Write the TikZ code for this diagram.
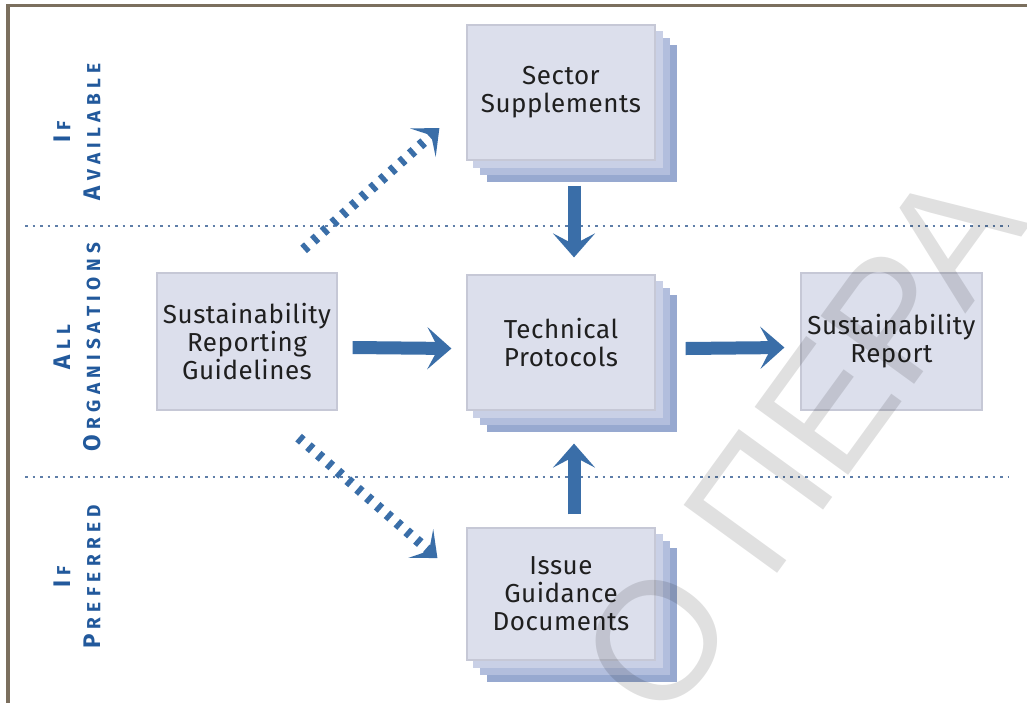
\documentclass[tikz,border=0pt]{standalone}
\usepackage{fontspec}
\setmainfont{Fira Sans}
\newfontfamily\boxfont[LetterSpace=2]{Fira Sans}
\newfontfamily\lblfont{Fira Sans}
\newfontfamily\wmfont{Liberation Sans}
\usetikzlibrary{arrows.meta,backgrounds}
\definecolor{arrowblue}{HTML}{3A6EA8}
\definecolor{lblblue}{HTML}{22599C}
\definecolor{boxfill}{HTML}{DCDFEC}
\definecolor{boxline}{HTML}{C6C8D6}
\definecolor{layerA}{HTML}{C9D0E6}
\definecolor{layerB}{HTML}{B2BEDD}
\definecolor{layerC}{HTML}{97A9D0}
\definecolor{framecol}{HTML}{7B6F5E}
\definecolor{dotcol}{HTML}{5E7EA8}
\def\spcloop#1{\ifx#1\relax\else\kern5.3pt#1\expandafter\spcloop\fi}
\newcommand\scw[2]{{\fontsize{24}{24}\selectfont #1}{\fontsize{19}{19}\selectfont\spcloop#2\relax}}
\begin{document}
\begin{tikzpicture}[x=1pt,y=-1pt,
  box/.style={draw=boxline, line width=1.2pt, fill=boxfill, text=black!88,
    font=\boxfont\fontsize{26}{28}\selectfont, align=center, inner sep=0pt},
  sidelbl/.style={rotate=90, align=center, text=lblblue,
    font=\lblfont\bfseries\fontsize{19}{30}\selectfont, inner sep=0pt},
  bigarrow/.style={draw=arrowblue, line width=13pt,
    -{Stealth[length=24pt,width=42pt,inset=11pt]}},
  dotarrow/.style={draw=arrowblue, line width=10pt, dash pattern=on 5pt off 8pt,
    -{Stealth[length=22pt,width=38pt,inset=11pt]}},
  sepline/.style={draw=dotcol, line width=1.3pt, dash pattern=on 2.5pt off 5pt}]
\useasboundingbox (0,0) rectangle (1027,702);
% frame
\draw[framecol, line width=3.5pt] (8,710) -- (8,5.5) -- (1035,5.5);
% separators
\draw[sepline] (25,226) -- (1008,226);
\draw[sepline] (25,477) -- (1008,477);
% side labels
\node[sidelbl] (lav) at (77,132) {\scw{I}{F}\\\scw{A}{VAILABLE}};
\node[sidelbl] (lall) at (77,347) {\scw{A}{LL}\\\scw{O}{RGANISATIONS}};
\node[sidelbl] (lpre) at (77,577) {\scw{I}{F}\\\scw{P}{REFERRED}};
% boxes
\node[box, minimum width=180pt, minimum height=137pt] (srg) at (247,341.5) {Sustainability\\Reporting\\Guidelines};
\node[box, minimum width=188pt, minimum height=135pt] (ss) at (561,92.5) {Sector\\Supplements};
\node[box, minimum width=188pt, minimum height=135pt] (tp) at (561,342.5) {Technical\\Protocols};
\node[box, minimum width=188pt, minimum height=132pt] (ig) at (561,594) {Issue\\Guidance\\Documents};
\node[box, minimum width=181pt, minimum height=137pt] (rep) at (891.5,341.5) {Sustainability\\Report};
% white page and stacked layers
\begin{scope}[on background layer]
\fill[white] (0,0) rectangle (1027,702);
\foreach \n in {ss,tp,ig}{
  \foreach \d/\c in {21/layerC,14/layerB,7/layerA}{
    \fill[\c] ([shift={(\d,\d)}]\n.north west) rectangle ([shift={(\d,\d)}]\n.south east);
  }}
\end{scope}
% arrows
\draw[bigarrow] ([shift={(15,6)}]srg.east) -- ([shift={(-15,6)}]tp.west);
\draw[bigarrow] ([shift={(30,6)}]tp.east) -- ([shift={(-16,6)}]rep.west);
\draw[bigarrow] ([shift={(13,25)}]ss.south) -- ([shift={(13,-17)}]tp.north);
\draw[bigarrow] ([shift={(13,-13)}]ig.north) -- ([shift={(13,33)}]tp.south);
\draw[dotarrow] ([shift={(-34,-23)}]srg.north east) -- ([shift={(-27,35.5)}]ss.west);
\draw[dotarrow] ([shift={(-39,27)}]srg.south east) -- ([shift={(-29,-36)}]ig.west);
% watermark
\begin{scope}
\clip (0,0) rectangle (1027,702);
\node[anchor=base west, rotate=54, inner sep=0pt, text=black, opacity=0.12,
  font=\wmfont\fontsize{168}{168}\selectfont] (wm) at (665,728) {Ο ΠΕΡΑ};
\end{scope}
\end{tikzpicture}
\end{document}
